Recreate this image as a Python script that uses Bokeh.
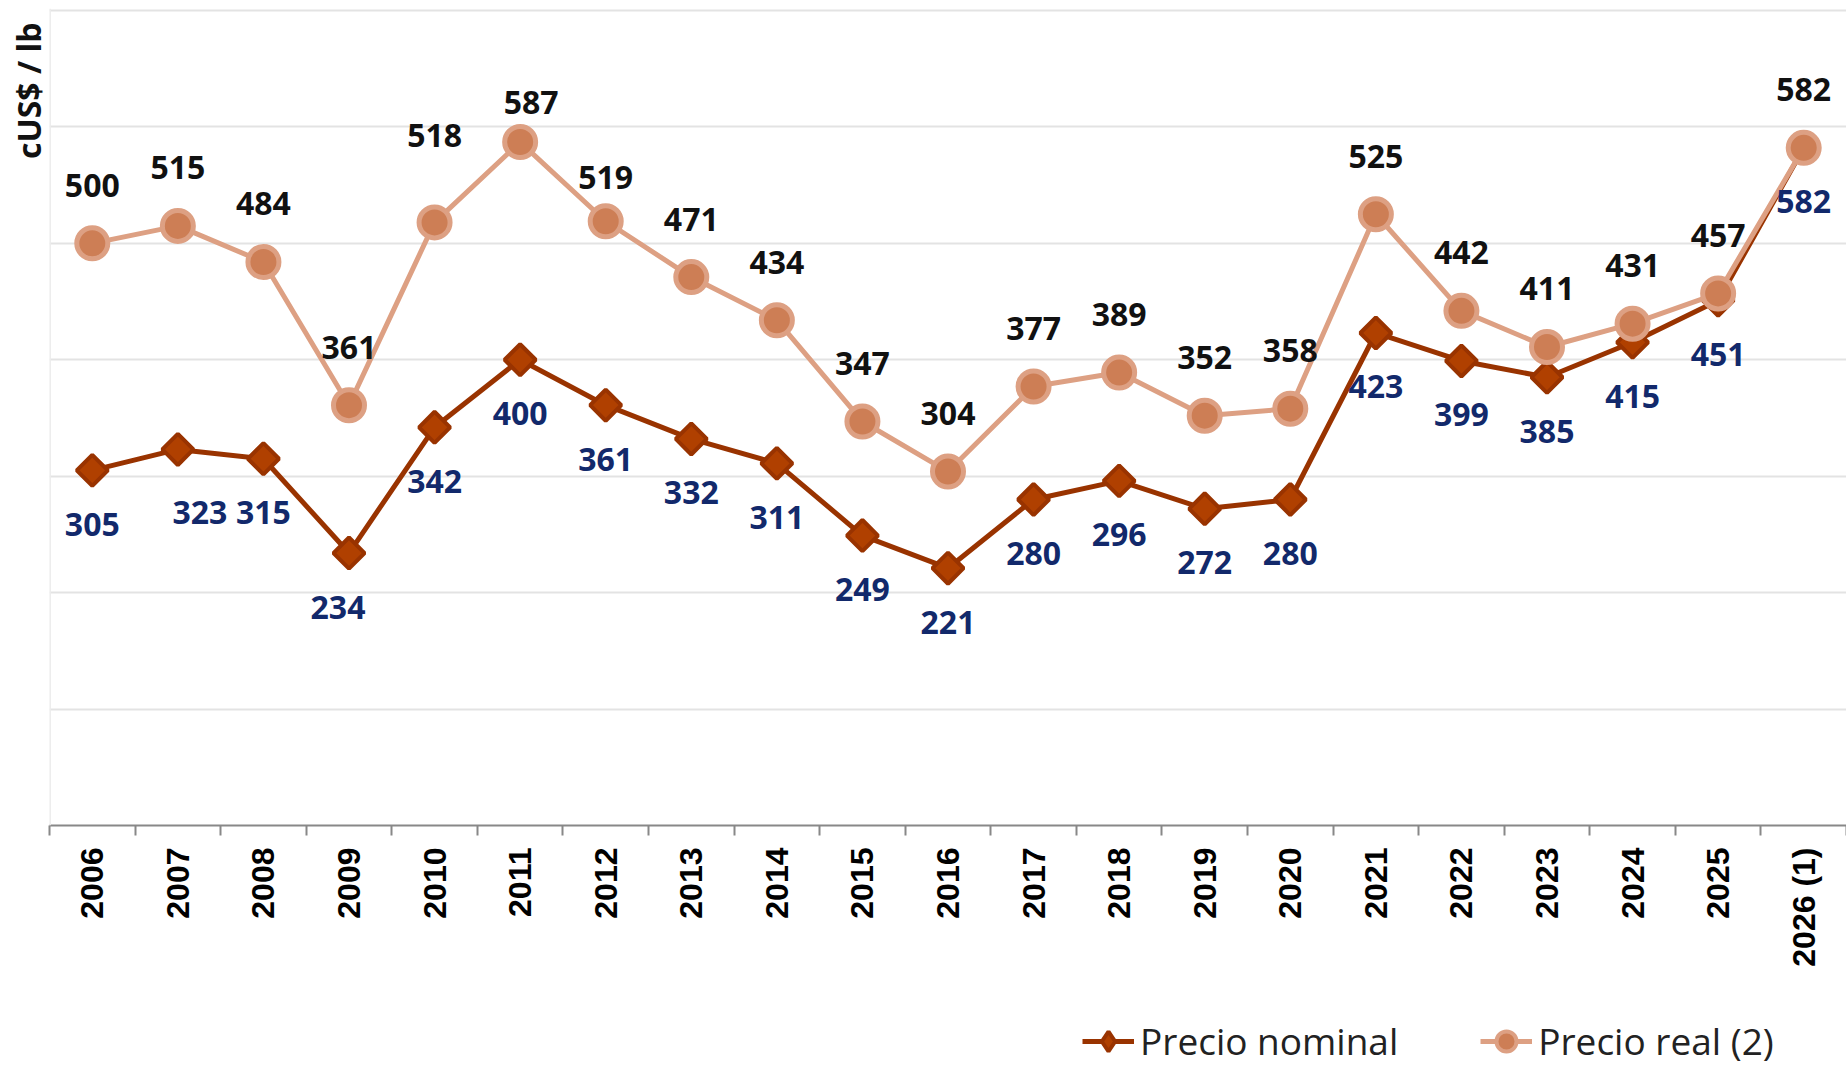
import math
from bokeh.plotting import figure
from bokeh.layouts import column
from bokeh.models import (Range1d, FixedTicker, Span, Title, Legend, LegendItem,
                          ColumnDataSource)
from bokeh.core.properties import value
from bokeh.embed import file_html
from bokeh.resources import INLINE

# ---- data ----
years = ["2006", "2007", "2008", "2009", "2010", "2011", "2012", "2013", "2014",
         "2015", "2016", "2017", "2018", "2019", "2020", "2021", "2022", "2023",
         "2024", "2025", "2026 (1)"]
nominal = [305, 323, 315, 234, 342, 400, 361, 332, 311, 249, 221, 280, 296, 272,
           280, 423, 399, 385, 415, 451, 582]
real = [500, 515, 484, 361, 518, 587, 519, 471, 434, 347, 304, 377, 389, 352,
        358, 525, 442, 411, 431, 457, 582]
y_ticks = [100, 200, 300, 400, 500, 600, 700]
series_names = ["Precio nominal", "Precio real (2)"]

# small label nudges (pixels, dx, dy), styling only
nominal_nudge = {1: (22, 9), 3: (-11, 0)}
real_nudge = {4: (0, -29), 5: (11, 18), 6: (0, 14)}

NOM_LINE, NOM_FILL = "#993300", "#B04000"
REAL_LINE, REAL_FILL = "#DDA083", "#CD7E55"

xs = list(range(len(years)))
src = ColumnDataSource(dict(
    x=xs, nominal=nominal, real=real,
    nlab=[str(v) for v in nominal], rlab=[str(v) for v in real],
    ndx=[nominal_nudge.get(i, (0, 0))[0] for i in xs],
    ndy=[54 + nominal_nudge.get(i, (0, 0))[1] for i in xs],
    rdx=[real_nudge.get(i, (0, 0))[0] for i in xs],
    rdy=[-58 + real_nudge.get(i, (0, 0))[1] for i in xs],
))

p = figure(width=1846, height=985, output_backend="svg", toolbar_location=None,
           x_range=Range1d(-0.5, len(years) - 0.5), y_range=Range1d(0, 701.7),
           min_border_left=49, min_border_right=0, min_border_top=8,
           min_border_bottom=160)
p.outline_line_color = None
p.background_fill_color = "white"
p.border_fill_color = "white"

p.xgrid.visible = False
p.ygrid.ticker = FixedTicker(ticks=y_ticks)
p.ygrid.grid_line_color = "#e3e3e3"
p.ygrid.grid_line_width = 2
p.yaxis.visible = False

ax = p.xaxis[0]
ax.ticker = FixedTicker(ticks=xs, minor_ticks=[i - 0.5 for i in range(len(years) + 1)])
ax.major_label_overrides = {i: years[i] for i in xs}
ax.major_label_orientation = math.pi / 2
ax.major_label_text_font = "Liberation Sans"
ax.major_label_text_font_style = "bold"
ax.major_label_text_font_size = "32px"
ax.major_label_text_color = "#000000"
ax.major_label_standoff = 12
ax.major_tick_out = 10
ax.major_tick_in = 0
ax.major_tick_line_color = None
ax.minor_tick_out = 10
ax.minor_tick_in = 0
ax.minor_tick_line_color = "#888888"
ax.minor_tick_line_width = 2
ax.axis_line_color = "#888888"
ax.axis_line_width = 2

p.add_layout(Span(location=-0.495, dimension="height", line_color="#ececec", line_width=2))

p.line("x", "nominal", source=src, line_color=NOM_LINE, line_width=5)
p.scatter("x", "nominal", source=src, marker="square", angle=math.pi / 4, size=22,
          fill_color=NOM_FILL, line_color=NOM_LINE, line_width=4)
p.line("x", "real", source=src, line_color=REAL_LINE, line_width=5)
p.scatter("x", "real", source=src, marker="circle", size=31,
          fill_color=REAL_FILL, line_color=REAL_LINE, line_width=5)

p.text("x", "nominal", text="nlab", source=src, x_offset="ndx", y_offset="ndy",
       text_align="center", text_baseline="middle", text_font=value("Open Sans"),
       text_font_style="bold", text_font_size="32px", text_color="#12296B")
p.text("x", "real", text="rlab", source=src, x_offset="rdx", y_offset="rdy",
       text_align="center", text_baseline="middle", text_font=value("Open Sans"),
       text_font_style="bold", text_font_size="32px", text_color="#111111")

title = Title(text="cUS$ / lb", align="right", text_font="Open Sans",
              text_font_size="32px", text_font_style="bold", text_color="#111111",
              standoff=0, offset=14)
p.add_layout(title, "left")

# ---- legend strip below the chart ----
lg = figure(width=1846, height=81, output_backend="svg", toolbar_location=None,
            x_range=Range1d(0, 1), y_range=Range1d(0, 1),
            min_border_left=0, min_border_right=0, min_border_top=0,
            min_border_bottom=0)
lg.axis.visible = False
lg.grid.visible = False
lg.outline_line_color = None
lg.border_fill_color = "white"
off = [-10]  # keeps legend-only renderers outside the visible range
l1 = lg.line(off, off, line_color=NOM_LINE, line_width=5)
s1 = lg.scatter(off, off, marker="diamond", fill_color=NOM_FILL, line_color=NOM_LINE,
                line_width=4)
l2 = lg.line(off, off, line_color=REAL_LINE, line_width=5)
s2 = lg.scatter(off, off, marker="circle", fill_color=REAL_FILL, line_color=REAL_LINE,
                line_width=4)
legend = Legend(items=[LegendItem(label=series_names[0], renderers=[l1, s1]),
                       LegendItem(label=series_names[1], renderers=[l2, s2])],
                orientation="horizontal", location=(1033, 0),
                glyph_width=52, glyph_height=50, label_standoff=6, spacing=82,
                padding=0, margin=0, border_line_color=None,
                background_fill_alpha=0, label_text_font="Open Sans",
                label_text_font_size="37px", label_text_color="#222222")
lg.add_layout(legend, "center")

layout = column(p, lg, spacing=0)
open("out.html", "w").write(file_html(layout, INLINE))
